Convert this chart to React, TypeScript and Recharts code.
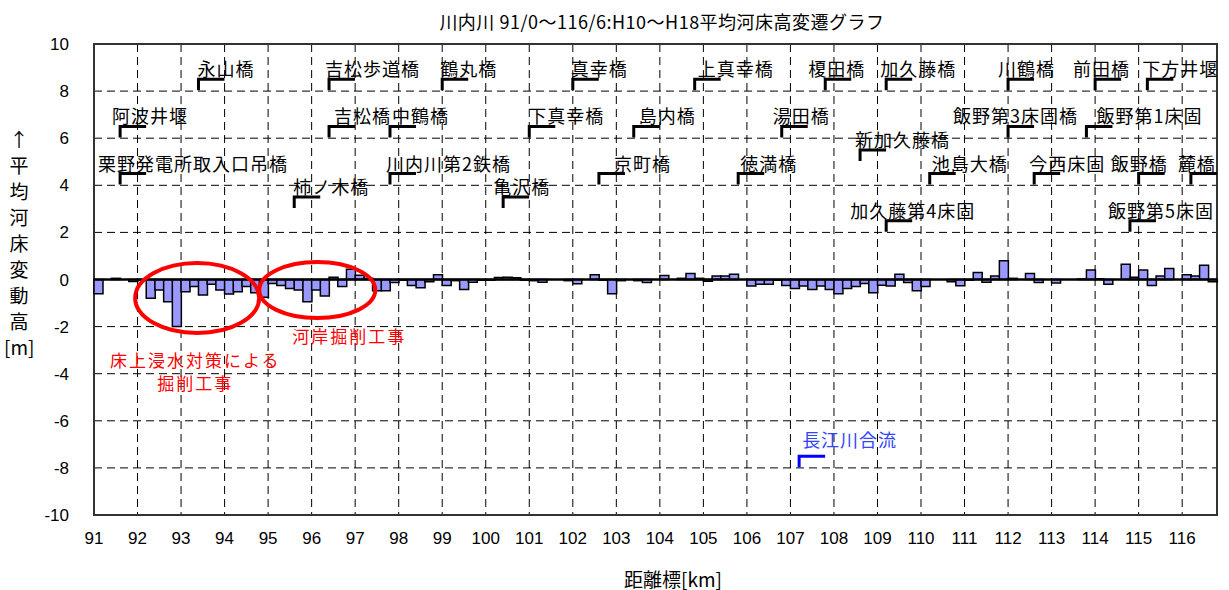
import React from "react";
import {
  ComposedChart,
  Bar,
  XAxis,
  YAxis,
  CartesianGrid,
  ReferenceLine,
  ReferenceDot,
  ReferenceArea,
} from "recharts";

// 平均河床変動高 [m]  H10→H18, 200m sections from 91/0 to 116/8
const bedChange = [
  -0.6, 0, 0.05, 0, -0.08, -0.02, -0.8, -0.45, -0.95, -2.0,
  -0.52, -0.3, -0.66, -0.2, -0.45, -0.62, -0.52, -0.3, -0.56, -0.75,
  -0.17, -0.25, -0.38, -0.45, -0.95, -0.45, -0.7, 0.1, -0.3, 0.43,
  0.18, 0.05, -0.48, -0.48, -0.13, -0.03, -0.25, -0.35, -0.1, 0.2,
  -0.25, -0.05, -0.42, -0.12, -0.03, -0.03, 0.08, 0.1, 0.07, -0.03,
  -0.05, -0.12, 0, 0, -0.05, -0.18, 0, 0.2, -0.03, -0.6,
  -0.05, 0, -0.05, -0.13, 0, 0.17, 0, 0.05, 0.25, 0.05,
  -0.07, 0.15, 0.15, 0.22, 0, -0.28, -0.2, -0.2, -0.03, -0.25,
  -0.38, -0.28, -0.42, -0.28, -0.42, -0.6, -0.38, -0.3, -0.17, -0.56,
  -0.24, -0.28, 0.22, -0.13, -0.48, -0.3, 0, 0, -0.1, -0.27,
  -0.03, 0.3, -0.12, 0.15, 0.8, 0.05, 0, 0.25, -0.13, 0,
  -0.15, 0, 0, 0.02, 0.4, 0.03, -0.2, 0, 0.65, 0.1,
  0.4, -0.25, 0.15, 0.47, 0, 0.2, 0.15, 0.6, -0.1,
];

const kmTicks = [
  91, 92, 93, 94, 95, 96, 97, 98, 99, 100, 101, 102, 103,
  104, 105, 106, 107, 108, 109, 110, 111, 112, 113, 114, 115, 116,
];
const levelTicks = [-10, -8, -6, -4, -2, 0, 2, 4, 6, 8, 10];

// bridges / weirs along the river
const landmarkNames = [
  "永山橋", "吉松歩道橋", "鶴丸橋", "真幸橋", "上真幸橋", "榎田橋", "加久藤橋", "川鶴橋", "前田橋", "下方井堰",
  "阿波井堰", "吉松橋", "中鶴橋", "下真幸橋", "島内橋", "湯田橋", "飯野第3床固橋", "飯野第1床固",
  "新加久藤橋",
  "栗野発電所取入口吊橋", "川内川第2鉄橋", "京町橋", "徳満橋", "池島大橋", "今西床固", "飯野橋", "麓橋",
  "柿ノ木橋", "亀沢橋",
  "加久藤第4床固", "飯野第5床固",
  "長江川合流",
];
const landmarkKm = [
  93.4, 96.4, 99.0, 102.0, 104.8, 107.8, 109.2, 112.0, 114.0, 115.2,
  91.6, 96.4, 97.8, 101.0, 103.4, 106.8, 112.0, 113.8,
  108.6,
  91.6, 97.8, 102.6, 105.8, 110.2, 112.6, 115.0, 116.2,
  95.6, 100.4,
  109.2, 114.8,
  107.2,
];
const landmarkLevel = [
  8.5, 8.5, 8.5, 8.5, 8.5, 8.5, 8.5, 8.5, 8.5, 8.5,
  6.5, 6.5, 6.5, 6.5, 6.5, 6.5, 6.5, 6.5,
  5.5,
  4.5, 4.5, 4.5, 4.5, 4.5, 4.5, 4.5, 4.5,
  3.5, 3.5,
  2.5, 2.5,
  -7.5,
];

// red notes on the dredging works
const workNames = ["床上浸水対策による|掘削工事", "河岸掘削工事"];
const workKm = [93.37, 96.13];
const workLevel = [-0.79, -0.45];

// label nudges (px) so names sit where the original put them
const LABEL_DX: Record<string, number> = {
  永山橋: -1, 吉松歩道橋: -4, 鶴丸橋: -2, 真幸橋: -2, 上真幸橋: 3, 榎田橋: -17, 加久藤橋: -6,
  川鶴橋: -10, 前田橋: -22, 下方井堰: -5, 阿波井堰: -8, 吉松橋: 5, 中鶴橋: 2, 下真幸橋: -1,
  島内橋: 5, 湯田橋: -9, 飯野第3床固橋: -55, 飯野第1床固: 10, 新加久藤橋: -5,
  栗野発電所取入口吊橋: -22, 川内川第2鉄橋: -4, 京町橋: 15, 徳満橋: 2, 池島大橋: 2,
  今西床固: -5, 飯野橋: -28, 麓橋: -13, 柿ノ木橋: -1, 亀沢橋: -10, 加久藤第4床固: -36,
  飯野第5床固: -22, 長江川合流: 3,
};

const JP = "'Noto Sans CJK JP', 'Noto Sans', sans-serif";
const NUM = "'Liberation Sans', Arial, sans-serif";

const data = bedChange.map((v, i) => ({
  km: Math.round((91.1 + i * 0.2) * 10) / 10,
  change: v,
}));

function LandmarkMark(props: any) {
  const { cx, cy, name } = props;
  const blue = name === "長江川合流";
  const color = blue ? "#0000FF" : "#000";
  return (
    <g>
      <path
        d={`M${cx},${cy + 11} V${cy} H${cx + 26}`}
        fill="none"
        stroke={color}
        strokeWidth={3}
      />
      <text
        x={cx + (LABEL_DX[name] ?? 0)}
        y={blue ? cy - 9 : cy - 3}
        fontSize={18}
        letterSpacing={1}
        fontFamily={JP}
        fill={blue ? "#3344FF" : "#000"}
      >
        {name}
      </text>
    </g>
  );
}

function WorkNote(props: any) {
  const { cx, cy, idx } = props;
  const big = idx === 0;
  const rx = big ? 62 : 58;
  const ry = big ? 35 : 28;
  const lines = workNames[idx].split("|");
  return (
    <g>
      <ellipse cx={cx} cy={cy} rx={rx} ry={ry} fill="none" stroke="#FF0000" strokeWidth={4} />
      {lines.map((t, i) => (
        <text
          key={t}
          x={big ? cx - 2 : cx + 32}
          y={big ? cy + 69 + i * 23 : cy + 53}
          textAnchor="middle"
          fontSize={17}
          letterSpacing={2}
          fontFamily={JP}
          fill="#FF0000"
        >
          {t}
        </text>
      ))}
    </g>
  );
}

export default function App() {
  return (
    <div
      style={{
        position: "absolute",
        left: 0,
        top: 0,
        width: 1229,
        height: 590,
        background: "#fff",
      }}
    >
      <div
        style={{
          position: "absolute",
          left: 662,
          top: 8,
          transform: "translateX(-50%)",
          whiteSpace: "nowrap",
          fontFamily: JP,
          fontSize: 18,
          letterSpacing: 0.5,
          color: "#000",
        }}
      >
        川内川 91/0～116/6:H10～H18平均河床高変遷グラフ
      </div>
      <div
        style={{
          position: "absolute",
          left: 4,
          top: 126,
          width: 30,
          textAlign: "center",
          fontFamily: JP,
          fontSize: 19,
          lineHeight: "26px",
          color: "#000",
        }}
      >
        {["↑", "平", "均", "河", "床", "変", "動", "高", "[m]"].map((c) => (
          <div key={c}>{c}</div>
        ))}
      </div>
      <div
        style={{
          position: "absolute",
          left: 673,
          top: 565,
          transform: "translateX(-50%)",
          whiteSpace: "nowrap",
          fontFamily: JP,
          fontSize: 19,
          color: "#000",
        }}
      >
        距離標[km]
      </div>
      <ComposedChart
        width={1229}
        height={590}
        data={data}
        margin={{ top: 44, right: 12, bottom: 35, left: 0 }}
        barCategoryGap={0}
        barGap={0}
      >
        <CartesianGrid stroke="#000" strokeDasharray="8 5" strokeWidth={1} />
        <XAxis
          type="number"
          dataKey="km"
          domain={[91, 116.8]}
          ticks={kmTicks}
          interval={0}
          axisLine={false}
          tickLine={false}
          tickSize={0}
          tickMargin={17}
          height={40}
          tick={{ fill: "#000", fontSize: 17, fontFamily: NUM }}
        />
        <YAxis
          type="number"
          domain={[-10, 10]}
          ticks={levelTicks}
          interval={0}
          axisLine={false}
          tickLine={false}
          tickSize={0}
          tickMargin={25}
          width={94}
          tick={{ fill: "#000", fontSize: 17, fontFamily: NUM }}
        />
        <Bar
          dataKey="change"
          fill="#9999FF"
          stroke="#000"
          strokeWidth={1.5}
          isAnimationActive={false}
        />
        <ReferenceLine y={0} stroke="#000" strokeWidth={2.5} />
        <ReferenceArea
          x1={91}
          x2={116.8}
          y1={-10}
          y2={10}
          fill="none"
          fillOpacity={0}
          stroke="#333"
          strokeWidth={2}
        />
        {landmarkNames.map((n, i) => (
          <ReferenceDot
            key={n + i}
            x={landmarkKm[i]}
            y={landmarkLevel[i]}
            r={0}
            shape={(p: any) => <LandmarkMark {...p} name={n} />}
          />
        ))}
        {workNames.map((n, i) => (
          <ReferenceDot
            key={n}
            x={workKm[i]}
            y={workLevel[i]}
            r={0}
            shape={(p: any) => <WorkNote {...p} idx={i} />}
          />
        ))}
      </ComposedChart>
    </div>
  );
}
